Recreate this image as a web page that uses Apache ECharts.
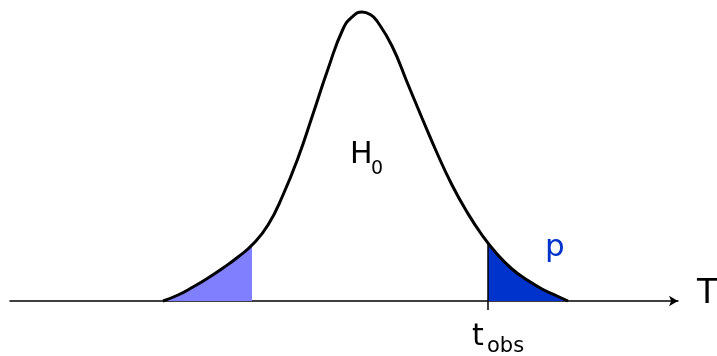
<!DOCTYPE html>
<html>
<head>
<meta charset="utf-8">
<script src="https://cdn.jsdelivr.net/npm/echarts@6/dist/echarts.min.js"></script>
<style>html,body{margin:0;padding:0;background:#fff}#main{width:717px;height:356px}</style>
</head>
<body>
<div id="main"></div>
<script>
var chartDom = document.getElementById("main");
var myChart = echarts.init(chartDom);

// density curve (x position, height above axis)
var curveX = [163, 178, 193, 208, 223, 238, 253, 268, 283, 298, 313, 328, 343, 352, 362, 371, 377, 392, 407, 422, 437, 452, 467, 482, 497, 512, 527, 542, 557, 568];
var curveY = [0, 6, 14, 23, 33, 44, 57, 76, 106, 143, 187, 232, 272, 284, 289, 286, 280, 255, 219, 183, 148, 116, 89, 66, 47, 32, 21, 12, 5, 0];
var leftCut = 252;
var tObs = 488;
var tObsTick = [-9, 58];

var curve = curveX.map(function (x, i) { return [x, curveY[i]]; });

var option = {
  animation: false,
  grid: { left: 10, right: 39, top: 1, bottom: 35 },
  xAxis: {
    type: "value",
    min: 10,
    max: 678,
    axisLine: { onZero: true, symbol: ["none", "arrow"], symbolSize: [8, 9], lineStyle: { color: "#000", width: 1.5 } },
    axisTick: { show: false },
    axisLabel: { show: false },
    splitLine: { show: false }
  },
  yAxis: {
    type: "value",
    min: -20,
    max: 300,
    show: false,
    splitLine: { show: false }
  },
  visualMap: {
    show: false,
    seriesIndex: 1,
    dimension: 0,
    pieces: [
      { lt: leftCut, color: "#8080ff" },
      { gte: leftCut, lte: tObs, color: "rgba(255,255,255,0)" },
      { gt: tObs, color: "#0033cc" }
    ]
  },
  series: [
    {
      type: "line",
      data: curve,
      smooth: 0.5,
      symbol: "none",
      z: 5,
      lineStyle: { color: "#000", width: 3 }
    },
    {
      type: "line",
      data: curve,
      smooth: 0.5,
      symbol: "none",
      z: 3,
      lineStyle: { width: 0 },
      areaStyle: { opacity: 1 }
    },
    {
      type: "line",
      data: [[tObs, tObsTick[0]], [tObs, tObsTick[1]]],
      symbol: "none",
      z: 4,
      lineStyle: { color: "#000", width: 1.5 }
    }
  ],
  graphic: [
    { type: "text", left: 350, top: 140, style: { text: "H", fontFamily: "DejaVu Sans", fontSize: 30, fill: "#000" } },
    { type: "text", left: 371, top: 160, style: { text: "0", fontFamily: "DejaVu Sans", fontSize: 19, fill: "#000" } },
    { type: "text", left: 545, top: 232, style: { text: "p", fontFamily: "DejaVu Sans", fontSize: 31, fill: "#0033cc" } },
    { type: "text", left: 472, top: 322, style: { text: "t", fontFamily: "DejaVu Sans", fontSize: 30, fill: "#000" } },
    { type: "text", left: 487, top: 336, style: { text: "obs", fontFamily: "DejaVu Sans", fontSize: 21, fill: "#000" } },
    { type: "text", left: 697, top: 278, style: { text: "T", fontFamily: "DejaVu Sans", fontSize: 33, fill: "#000" } }
  ]
};

option && myChart.setOption(option);
</script>
</body>
</html>
